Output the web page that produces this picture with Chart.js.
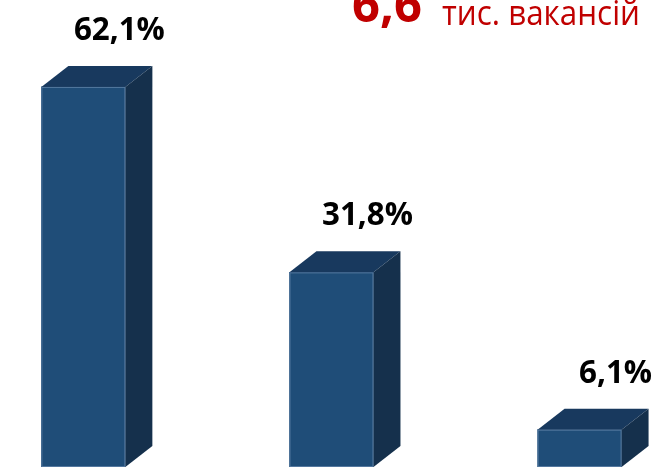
<!DOCTYPE html>
<html>
<head>
<meta charset="utf-8">
<script src="https://cdn.jsdelivr.net/npm/chart.js@4"></script>
<style>
html,body{margin:0;padding:0;background:#fff;}
#wrap{width:654px;height:468px;position:relative;}
</style>
</head>
<body>
<div id="wrap"><canvas id="c"></canvas></div>
<script>
const categories = ['1', '2', '3'];
const values = [62.1, 31.8, 6.1];
const valueLabels = ['62,1%', '31,8%', '6,1%'];
const totalValue = '6,6';
const totalUnit = 'тис. вакансій';

const FRONT = '#1F4D78';
const TOP = '#18395E';
const SIDE = '#15304C';
const DX = 27, DY = -21;

function fitText(ctx, text, x, y, w) {
  const m = ctx.measureText(text).width;
  const s = Math.min(1, w / m);
  ctx.save();
  ctx.translate(x, y);
  ctx.scale(s, 1);
  ctx.fillText(text, 0, 0);
  ctx.restore();
}

const bar3d = {
  id: 'bar3d',
  afterDatasetsDraw(chart) {
    const ctx = chart.ctx;
    const meta = chart.getDatasetMeta(0);
    ctx.save();
    meta.data.forEach((el, i) => {
      const p = el.getProps(['x', 'y', 'base', 'width'], true);
      const l = p.x - p.width / 2, r = p.x + p.width / 2;
      ctx.fillStyle = TOP;
      ctx.beginPath();
      ctx.moveTo(l, p.y); ctx.lineTo(l + DX, p.y + DY); ctx.lineTo(r + DX, p.y + DY); ctx.lineTo(r, p.y);
      ctx.closePath(); ctx.fill();
      ctx.fillStyle = SIDE;
      ctx.beginPath();
      ctx.moveTo(r, p.y); ctx.lineTo(r + DX, p.y + DY); ctx.lineTo(r + DX, p.base + DY); ctx.lineTo(r, p.base);
      ctx.closePath(); ctx.fill();
      ctx.strokeStyle = 'rgba(120,150,185,0.6)';
      ctx.lineWidth = 1;
      ctx.strokeRect(l + 0.5, p.y + 0.5, p.width - 1, p.base - p.y - 1);
      // value label
      ctx.fillStyle = '#000';
      ctx.font = 'bold 33px "Open Sans"';
      ctx.textAlign = 'center';
      ctx.textBaseline = 'alphabetic';
      ctx.save();
      ctx.translate(r - 6, p.y - 47);
      ctx.scale(0.95, 1);
      ctx.fillText(valueLabels[i], 0, 0);
      ctx.restore();
    });
    // title
    ctx.fillStyle = '#C00000';
    ctx.textAlign = 'left';
    ctx.font = 'bold 50px "Open Sans"';
    fitText(ctx, totalValue, 352, 22, 70);
    ctx.font = '35px "Open Sans"';
    fitText(ctx, totalUnit, 442, 25, 198);
    ctx.restore();
  }
};

new Chart(document.getElementById('c'), {
  type: 'bar',
  data: {
    datasets: [{
      data: categories.map((c, i) => ({x: i, y: values[i]})),
      backgroundColor: FRONT,
      borderWidth: 0,
      barThickness: 84
    }]
  },
  options: {
    responsive: true,
    maintainAspectRatio: false,
    animation: false,
    layout: {padding: {left: 0, right: 0, top: 0, bottom: 1}},
    plugins: {legend: {display: false}, tooltip: {enabled: false}, title: {display: false}},
    scales: {
      x: {type: 'linear', min: -0.336, max: 2.3, display: false, offset: false},
      y: {min: 0, max: 76.3, display: false}
    }
  },
  plugins: [bar3d]
});
</script>
</body>
</html>
